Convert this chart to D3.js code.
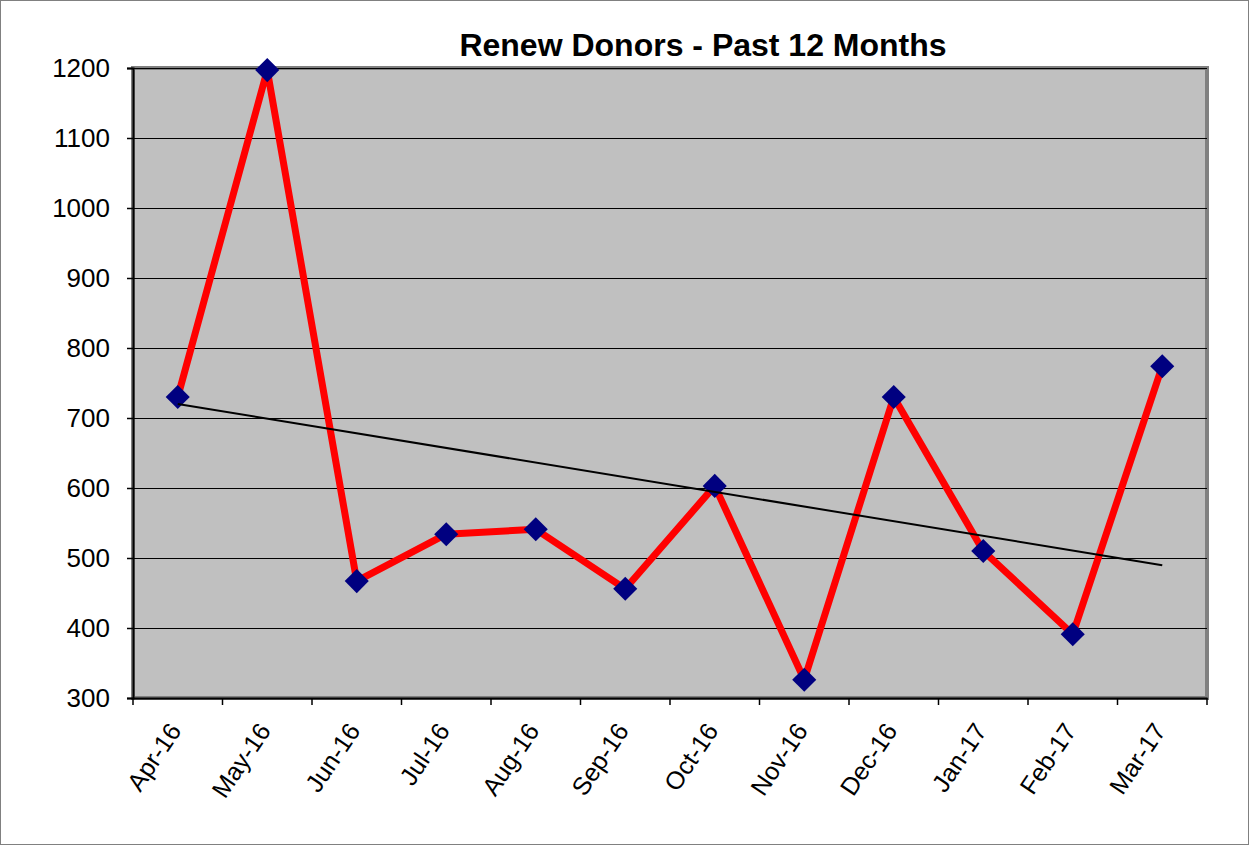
<!DOCTYPE html>
<html>
<head>
<meta charset="utf-8">
<script src="https://cdn.jsdelivr.net/npm/d3@7"></script>
<style>
  body { margin: 0; background: #fff; }
  svg { display: block; font-family: Arial, "Liberation Sans", sans-serif; }
</style>
</head>
<body>
<div id="chart"></div>
<script>
const months = ['Apr-16', 'May-16', 'Jun-16', 'Jul-16', 'Aug-16', 'Sep-16',
  'Oct-16', 'Nov-16', 'Dec-16', 'Jan-17', 'Feb-17', 'Mar-17']
const donors = [730, 1197, 467, 534, 541, 456, 603, 326, 730, 510, 391, 774]
const yTicks = [300, 400, 500, 600, 700, 800, 900, 1000, 1100, 1200]
const title = 'Renew Donors - Past 12 Months'

const W = 1249
const H = 845
const plot = { left: 133, right: 1207, top: 68, bottom: 698 }

const svg = d3.select('#chart').append('svg')
  .attr('width', W).attr('height', H)

// outer frame
svg.append('rect')
  .attr('x', 0.5).attr('y', 0.5).attr('width', W - 1).attr('height', H - 1)
  .attr('fill', '#fff').attr('stroke', '#808080').attr('stroke-width', 1)

const x = d3.scaleBand().domain(months).range([plot.left, plot.right])
const y = d3.scaleLinear().domain([300, 1200]).range([plot.bottom, plot.top])

// plot area with grey border
svg.append('rect')
  .attr('x', plot.left).attr('y', plot.top)
  .attr('width', plot.right - plot.left).attr('height', plot.bottom - plot.top)
  .attr('fill', '#c0c0c0').attr('stroke', '#808080').attr('stroke-width', 4)

// gridlines
svg.append('g').selectAll('line')
  .data(yTicks.slice(1))
  .join('line')
  .attr('x1', plot.left).attr('x2', plot.right)
  .attr('y1', d => Math.round(y(d)) + 0.5).attr('y2', d => Math.round(y(d)) + 0.5)
  .attr('stroke', '#000').attr('stroke-width', 1)

// y axis
const yAxis = svg.append('g')
  .attr('transform', `translate(${plot.left},0)`)
  .call(d3.axisLeft(y).tickValues(yTicks).tickSize(6).tickPadding(17).tickFormat(d3.format('d')))
yAxis.select('.domain').attr('stroke', '#000').attr('stroke-width', 2)
yAxis.selectAll('.tick line').attr('stroke', '#000').attr('stroke-width', 1.5)
yAxis.selectAll('.tick text').attr('font-size', 26).attr('fill', '#000')

// x axis, ticks at category boundaries
const xAxis = svg.append('g')
  .attr('transform', `translate(0,${plot.bottom})`)
  .call(d3.axisBottom(x).tickSize(0).tickFormat(''))
xAxis.select('.domain').attr('stroke', '#000').attr('stroke-width', 2)
xAxis.selectAll('.bound')
  .data(d3.range(months.length + 1))
  .join('line')
  .attr('class', 'bound')
  .attr('x1', i => plot.left + i * x.step()).attr('x2', i => plot.left + i * x.step())
  .attr('y1', 0).attr('y2', 7)
  .attr('stroke', '#000').attr('stroke-width', 1.5)
svg.append('g').selectAll('text')
  .data(months)
  .join('text')
  .attr('transform', d => `translate(${x(d) + x.bandwidth() / 2 - 1},${plot.bottom + 29}) rotate(-56)`)
  .attr('text-anchor', 'end')
  .attr('dominant-baseline', 'middle')
  .attr('font-size', 25)
  .attr('fill', '#000')
  .text(d => d)

const cx = d => x(d) + x.bandwidth() / 2

// data line
const line = d3.line()
  .x((d, i) => cx(months[i]))
  .y(d => y(d))
svg.append('path')
  .datum(donors)
  .attr('d', line)
  .attr('fill', 'none')
  .attr('stroke', '#ff0000')
  .attr('stroke-width', 7)
  .attr('stroke-linejoin', 'round')

// markers
svg.append('g').selectAll('path')
  .data(donors)
  .join('path')
  .attr('d', d3.symbol().type(d3.symbolSquare).size(290))
  .attr('transform', (d, i) => `translate(${cx(months[i])},${y(d)}) rotate(45)`)
  .attr('fill', '#000080')

// linear trend line
const xs = donors.map((d, i) => i + 1)
const mx = d3.mean(xs)
const my = d3.mean(donors)
const slope = d3.sum(xs, (v, i) => (v - mx) * (donors[i] - my)) / d3.sum(xs, v => (v - mx) ** 2)
const icpt = my - slope * mx
svg.append('line')
  .attr('x1', cx(months[0])).attr('y1', y(icpt + slope * 1))
  .attr('x2', cx(months[months.length - 1])).attr('y2', y(icpt + slope * months.length))
  .attr('stroke', '#000').attr('stroke-width', 2)

// title
svg.append('text')
  .attr('x', 703).attr('y', 56)
  .attr('text-anchor', 'middle')
  .attr('font-size', 32).attr('font-weight', 'bold')
  .attr('fill', '#000')
  .text(title)
</script>
</body>
</html>
